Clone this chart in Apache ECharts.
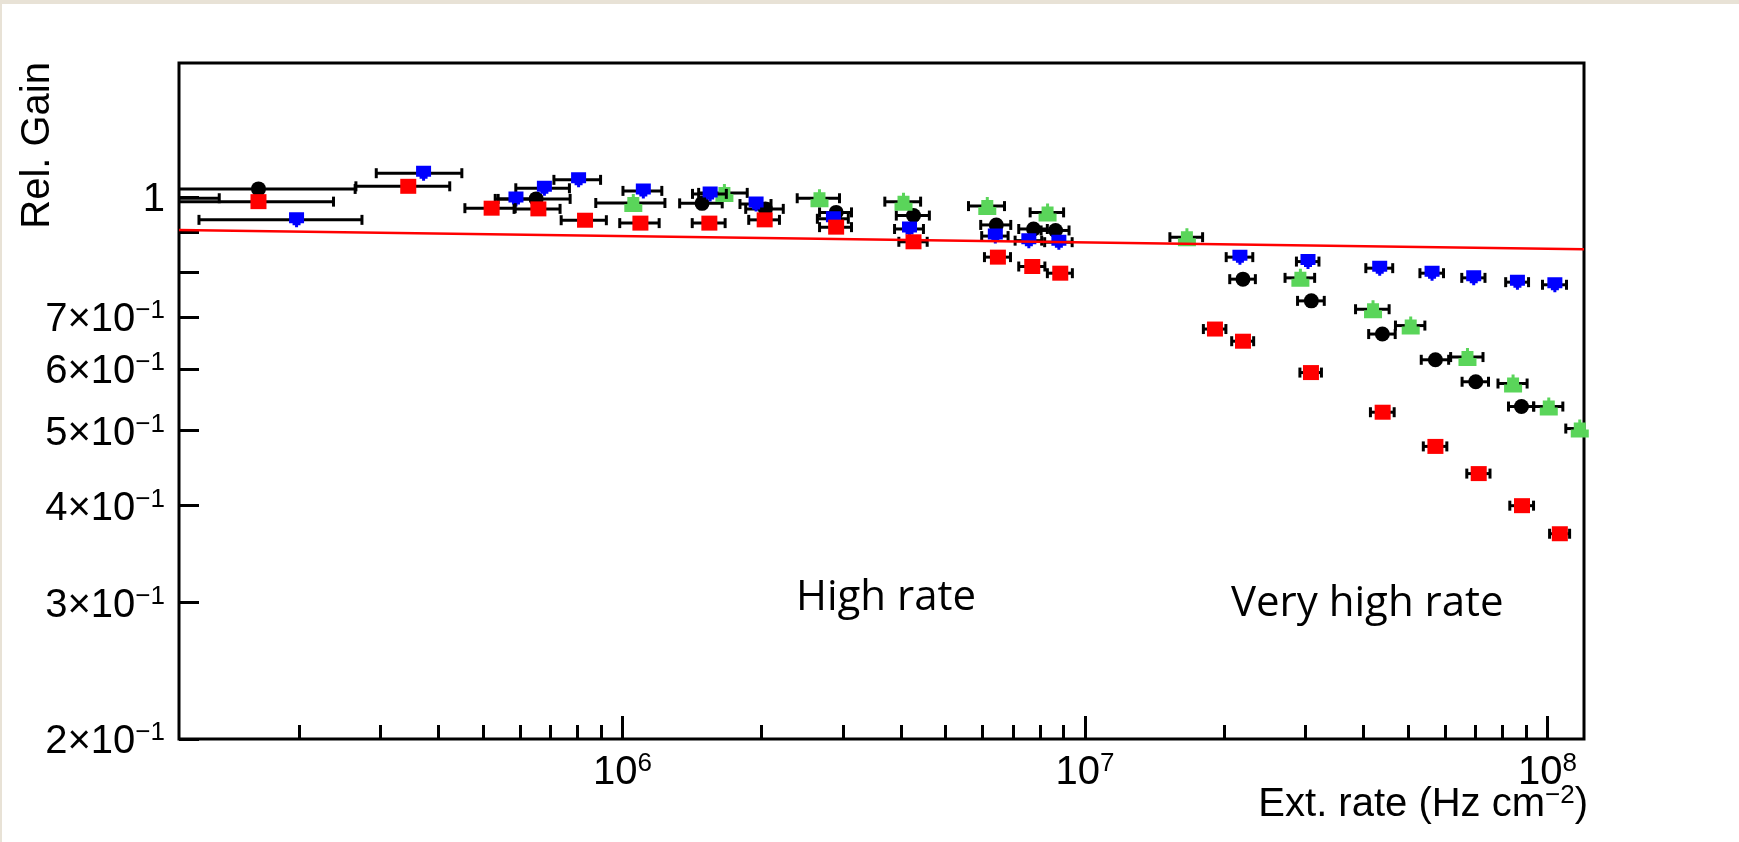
<!DOCTYPE html>
<html>
<head>
<meta charset="utf-8">
<title>Rel. Gain vs. Ext. rate</title>
<script src="https://cdn.jsdelivr.net/npm/echarts@6/dist/echarts.min.js"></script>
<style>
  html, body { margin: 0; padding: 0; background: #ffffff; }
  #page {
    position: absolute; left: 0; top: 0; width: 1739px; height: 842px;
    box-sizing: border-box; background: #ffffff;
    border-top: 4px solid #e8e2d6; border-left: 2px solid #e8e2d6;
  }
  #chart { position: absolute; left: 0; top: 0; width: 1739px; height: 842px; }
</style>
</head>
<body>
<div id="page"></div>
<div id="chart"></div>
<script>
// ---- Axis ranges and ticks ----
const xMin = 1.1e5, xMax = 1.2e8;
const yMin = 0.2, yMax = 1.49;
const xMajorTicks = [1e6, 1e7, 1e8];
const xMinorTicks = [2e5, 3e5, 4e5, 5e5, 6e5, 7e5, 8e5, 9e5,
                     2e6, 3e6, 4e6, 5e6, 6e6, 7e6, 8e6, 9e6,
                     2e7, 3e7, 4e7, 5e7, 6e7, 7e7, 8e7, 9e7];
const xLabelValues = [1e6, 1e7, 1e8];
const xLabelExp = ['6', '7', '8'];
const yTickValues = [0.2, 0.3, 0.4, 0.5, 0.6, 0.7, 0.8, 0.9, 1.0];
const yLabelValues = [0.2, 0.3, 0.4, 0.5, 0.6, 0.7, 1.0];
const yLabelMantissa = ['2', '3', '4', '5', '6', '7', '1'];
const yLabelExp = ['−1', '−1', '−1', '−1', '−1', '−1', ''];

// ---- Data sets: rate (Hz cm^-2), half-width of rate bin, relative gain ----
const blackRate = [1.0e5, 1.634e5, 6.51e5, 1.487e6, 2.038e6, 2.899e6, 4.261e6, 6.434e6, 7.745e6, 8.642e6,
                   2.197e7, 3.088e7, 4.398e7, 5.727e7, 7.0e7, 8.79e7];
const blackRateErr = [0.344e5, 1.01e5, 1.2e5, 1.57e5, 1.9e5, 2.3e5, 3.5e5, 4.8e5, 5.5e5, 6.0e5,
                      1.4e6, 2.05e6, 2.9e6, 3.9e6, 4.6e6, 5.5e6];
const blackGain = [0.997, 1.025, 0.995, 0.982, 0.966, 0.956, 0.947, 0.921, 0.910, 0.906,
                   0.784, 0.735, 0.666, 0.617, 0.578, 0.537];

const redRate = [1.634e5, 3.444e5, 5.216e5, 6.583e5, 8.304e5, 1.094e6, 1.542e6, 2.031e6, 2.899e6, 4.261e6,
                 6.486e6, 7.695e6, 8.847e6, 1.911e7, 2.197e7, 3.082e7, 4.404e7, 5.727e7, 7.105e7, 8.814e7, 1.064e8];
const redRateErr = [0.74e5, 0.79e5, 0.65e5, 0.75e5, 0.93e5, 1.07e5, 1.26e5, 1.55e5, 2.3e5, 3.0e5,
                    4.2e5, 5.0e5, 5.5e5, 1.07e6, 1.2e6, 1.65e6, 2.6e6, 3.35e6, 4.1e6, 5.2e6, 5.3e6];
const redGain = [0.987, 1.033, 0.968, 0.966, 0.934, 0.926, 0.926, 0.935, 0.915, 0.876,
                 0.837, 0.814, 0.798, 0.676, 0.652, 0.594, 0.528, 0.477, 0.440, 0.400, 0.368];

const blueRate = [1.975e5, 3.717e5, 5.888e5, 6.783e5, 8.042e5, 1.110e6, 1.548e6, 1.946e6, 2.86e6, 4.177e6,
                  6.403e6, 7.566e6, 8.786e6, 2.164e7, 3.037e7, 4.34e7, 5.632e7, 6.93e7, 8.615e7, 1.038e8];
const blueRateErr = [0.76e5, 0.78e5, 0.5e5, 0.9e5, 0.93e5, 1.07e5, 1.3e5, 1.5e5, 2.2e5, 3.0e5,
                     4.2e5, 5.0e5, 6.0e5, 1.43e6, 1.7e6, 2.9e6, 3.3e6, 4.0e6, 4.9e6, 6.2e6];
const blueGain = [0.935, 1.074, 0.995, 1.027, 1.053, 1.019, 1.010, 0.980, 0.938, 0.910,
                  0.891, 0.879, 0.875, 0.837, 0.826, 0.810, 0.798, 0.787, 0.777, 0.771];

const greenRate = [1.056e6, 1.662e6, 2.668e6, 4.054e6, 6.152e6, 8.305e6, 1.662e7, 2.924e7, 4.198e7, 5.064e7,
                   6.718e7, 8.43e7, 1.007e8, 1.175e8];
const greenRateErr = [1.8e5, 2.0e5, 2.8e5, 3.6e5, 5.5e5, 6.9e5, 1.35e6, 2.15e6, 3.5e6, 3.7e6,
                      5.4e6, 6.1e6, 7.3e6, 7.9e6];
const greenGain = [0.983, 1.013, 0.997, 0.987, 0.974, 0.956, 0.888, 0.787, 0.717, 0.683,
                   0.622, 0.575, 0.537, 0.503];

// Straight-line fit (power law) drawn across the full range
const fitRate = [1.1e5, 1.2e8];
const fitGain = [0.907, 0.857];

// ---- Marker shapes ----
const invTriPath = 'path://M0,0 L15,0 L15,11 L11.5,11 L11.5,13 L9,13 L9,15 L6,15 L6,13 L3.5,13 L3.5,11 L0,11 Z';
const triPath = 'path://M7.5,0 L10.5,0 L10.5,3 L15,3 L15,10 L18,10 L18,18 L0,18 L0,10 L3,10 L3,3 L7.5,3 Z';

const FONT = '"Liberation Sans", Arial, Helvetica, sans-serif';
const labelRich = {
  b: { fontSize: 40, fontFamily: FONT, color: '#000', lineHeight: 44 },
  s: { fontSize: 26, fontFamily: FONT, color: '#000', lineHeight: 14, verticalAlign: 'top' }
};

function sameLog(a, b) { return Math.abs(Math.log10(a) - Math.log10(b)) < 1e-6; }

// Horizontal error bars with end caps, clipped to the plot area
function errorBars(rate, err, gain, z) {
  return {
    type: 'custom',
    z: z,
    silent: true,
    xAxisIndex: 0, yAxisIndex: 0,
    data: rate.map((r, i) => [r, gain[i], err[i]]),
    encode: { x: 0, y: 1 },
    renderItem: function (params, api) {
      const cs = params.coordSys;
      const x = api.value(0), y = api.value(1), e = api.value(2);
      const py = api.coord([x, y])[1];
      const lo = api.coord([x - e, y])[0];
      const hi = api.coord([x + e, y])[0];
      const left = Math.max(lo, cs.x), right = Math.min(hi, cs.x + cs.width);
      if (right <= cs.x || left >= cs.x + cs.width) return null;
      const st = { stroke: '#000', lineWidth: 3 };
      const children = [{ type: 'line', shape: { x1: left, y1: py, x2: right, y2: py }, style: st }];
      if (lo >= cs.x) children.push({ type: 'line', shape: { x1: lo, y1: py - 5, x2: lo, y2: py + 5 }, style: st });
      if (hi <= cs.x + cs.width) children.push({ type: 'line', shape: { x1: hi, y1: py - 5, x2: hi, y2: py + 5 }, style: st });
      return { type: 'group', children: children };
    }
  };
}

function markers(rate, gain, symbol, size, color, z) {
  return {
    type: 'scatter',
    z: z,
    xAxisIndex: 0, yAxisIndex: 0,
    data: rate.map((r, i) => [r, gain[i]]),
    symbol: symbol,
    symbolSize: size,
    itemStyle: { color: color, opacity: 1 },
    emphasis: { disabled: true }
  };
}

const chart = echarts.init(document.getElementById('chart'), null, { renderer: 'canvas' });
chart.setOption({
  backgroundColor: 'transparent',
  animation: false,
  grid: {
    left: 179, right: 155, top: 63, bottom: 103,
    show: true, borderColor: '#000', borderWidth: 3, backgroundColor: 'transparent',
    outerBoundsMode: 'none'
  },
  xAxis: [
    {
      type: 'log', logBase: 10, min: xMin, max: xMax, position: 'bottom',
      axisLine: { show: false }, splitLine: { show: false },
      axisTick: { show: true, inside: true, length: 23, customValues: xMajorTicks, lineStyle: { color: '#000', width: 3 } },
      axisLabel: {
        show: true, margin: 12, customValues: xLabelValues, rich: labelRich,
        formatter: function (v) {
          const i = xLabelValues.findIndex(t => sameLog(t, v));
          return i < 0 ? '' : '{b|10}{s|' + xLabelExp[i] + '}';
        }
      }
    },
    {
      type: 'log', logBase: 10, min: xMin, max: xMax, position: 'bottom',
      axisLine: { show: false }, splitLine: { show: false },
      axisTick: { show: true, inside: true, length: 14, customValues: xMinorTicks, lineStyle: { color: '#000', width: 3 } },
      axisLabel: { show: false }
    }
  ],
  yAxis: [
    {
      type: 'log', logBase: 10, min: yMin, max: yMax,
      axisLine: { show: false }, splitLine: { show: false },
      axisTick: { show: true, inside: true, length: 20, customValues: yTickValues, lineStyle: { color: '#000', width: 3 } },
      axisLabel: {
        show: true, margin: 14, padding: [6, 0, 0, 0], customValues: yLabelValues, rich: labelRich,
        formatter: function (v) {
          const i = yLabelValues.findIndex(t => sameLog(t, v));
          if (i < 0) return '';
          return yLabelExp[i] ? '{b|' + yLabelMantissa[i] + '×10}{s|' + yLabelExp[i] + '}' : '{b|' + yLabelMantissa[i] + '}';
        }
      }
    }
  ],
  series: [
    errorBars(blackRate, blackRateErr, blackGain, 2),
    markers(blackRate, blackGain, 'circle', 15, '#000000', 3),
    errorBars(greenRate, greenRateErr, greenGain, 4),
    markers(greenRate, greenGain, triPath, [18, 18], '#5ad55a', 5),
    errorBars(blueRate, blueRateErr, blueGain, 6),
    markers(blueRate, blueGain, invTriPath, [15, 15], '#0000ff', 7),
    errorBars(redRate, redRateErr, redGain, 8),
    markers(redRate, redGain, 'rect', [16, 15], '#ff0000', 9),
    {
      type: 'line', z: 10, xAxisIndex: 0, yAxisIndex: 0,
      data: fitRate.map((r, i) => [r, fitGain[i]]),
      showSymbol: false, symbol: 'none', silent: true,
      lineStyle: { color: '#ff0000', width: 2.5 }
    }
  ],
  graphic: [
    {
      type: 'text', x: 37.5, y: 62, rotation: Math.PI / 2, silent: true,
      style: { text: 'Rel. Gain', fontSize: 40, fontFamily: FONT, fill: '#000', align: 'right', verticalAlign: 'middle' }
    },
    {
      type: 'text', x: 1588, y: 805, silent: true,
      style: { text: '{b|Ext. rate (Hz cm}{s|−2}{b|)}', rich: labelRich, align: 'right', verticalAlign: 'middle' }
    },
    {
      type: 'text', x: 796, y: 598, silent: true,
      style: { text: 'High rate', fontSize: 42, fontFamily: '"Open Sans", sans-serif', fill: '#000', align: 'left', verticalAlign: 'middle' }
    },
    {
      type: 'text', x: 1231, y: 604, silent: true,
      style: { text: 'Very high rate', fontSize: 42, fontFamily: '"Open Sans", sans-serif', fill: '#000', align: 'left', verticalAlign: 'middle' }
    }
  ]
});
</script>
</body>
</html>
